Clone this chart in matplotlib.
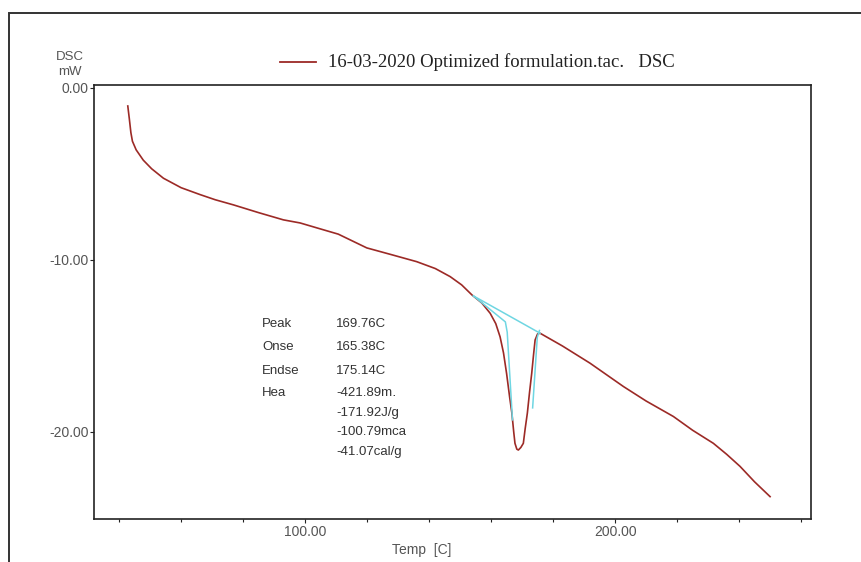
import matplotlib.pyplot as plt
from matplotlib.patches import Rectangle

# DSC trace (temperature in C, heat flow in mW)
temp = [42.8, 43.3, 43.8, 44.3, 45.5, 47.8, 50.5, 54.3, 60.0, 66.1, 71.0, 76.9,
        85.0, 93.0, 98.4, 105.0, 110.7, 119.9, 128.0, 136.0, 142.0, 146.8, 150.5,
        153.8, 157.0, 159.7, 161.5, 162.9, 164.0, 165.0, 166.0, 166.7, 167.3,
        167.7, 168.3, 168.8, 169.6, 170.4, 171.0, 171.7, 172.4, 173.1, 173.7,
        174.2, 175.0, 175.8, 183.0, 191.9, 202.7, 210.0, 218.8, 225.0, 231.7,
        236.0, 240.3, 245.0, 250.0]
dsc = [-1.05, -1.8, -2.6, -3.1, -3.6, -4.2, -4.7, -5.25, -5.8, -6.2, -6.5, -6.8,
       -7.25, -7.67, -7.85, -8.2, -8.5, -9.3, -9.7, -10.1, -10.5, -10.97, -11.45,
       -12.03, -12.5, -13.1, -13.7, -14.47, -15.4, -16.6, -18.0, -18.9, -20.0,
       -20.66, -21.0, -21.05, -20.9, -20.66, -19.8, -18.9, -17.7, -16.6, -15.5,
       -14.65, -14.3, -14.26, -15.0, -16.0, -17.36, -18.2, -19.1, -19.9, -20.66,
       -21.3, -22.0, -22.9, -23.76]

# peak analysis construction lines
base_t = [154.3, 175.8]
base_v = [-12.09, -14.26]
onset_t = [154.3, 164.6, 165.2, 166.9]
onset_v = [-12.09, -13.6, -14.2, -19.3]
endset_t = [175.6, 174.9, 173.4]
endset_v = [-14.1, -14.5, -18.6]

labels = ["Peak", "Onse", "Endse", "Hea", "", "", ""]
values = ["169.76C", "165.38C", "175.14C", "-421.89m\u2024", "-171.92J/g",
          "-100.79mca", "-41.07cal/g"]
label_y = [324, 347, 371, 393, 413, 432, 452]

curve_color = "#9c2a26"
cyan = "#6fd6e2"
grey = "#555555"
sans = ["Liberation Sans", "DejaVu Sans"]

W, H = 862, 562
fig = plt.figure(figsize=(W / 100, H / 100), dpi=100)
ax = fig.add_axes([94 / W, 1 - 519 / H, (811 - 94) / W, (519 - 85) / H])

ax.plot(temp, dsc, color=curve_color, lw=1.2)
ax.plot(base_t, base_v, color=cyan, lw=1.1)
ax.plot(onset_t, onset_v, color=cyan, lw=1.1)
ax.plot(endset_t, endset_v, color=cyan, lw=1.1)

ax.set_xlim(31.9, 263.2)
ax.set_ylim(-25.06, 0.17)
ax.set_xticks([100, 200])
ax.set_xticklabels(["100.00", "200.00"])
ax.set_xticks(list(range(40, 261, 20)), minor=True)
ax.set_yticks([0, -10, -20])
ax.set_yticklabels(["0.00", "-10.00", "-20.00"])
ax.tick_params(which="both", direction="out", length=3, width=0.8,
               labelsize=10, colors="#222222", labelcolor=grey, pad=1)
ax.tick_params(axis="x", which="minor", length=2.5)
for lab in ax.get_xticklabels() + ax.get_yticklabels():
    lab.set_family(sans)
for s in ax.spines.values():
    s.set_linewidth(1.2)
    s.set_color("#222222")

fig.text(70 / W, 1 - 57 / H, "DSC", ha="center", va="center",
         fontsize=9.5, color=grey, family=sans)
fig.text(70 / W, 1 - 72 / H, "mW", ha="center", va="center",
         fontsize=9.5, color=grey, family=sans)
fig.text(422 / W, 1 - 550 / H, "Temp  [C]", ha="center", va="center",
         fontsize=10, color=grey, family=sans)

# legend line and text
fig.add_artist(plt.Line2D([280 / W, 316 / W], [1 - 62 / H, 1 - 62 / H],
                          color=curve_color, lw=1.3))
fig.text(328 / W, 1 - 62 / H, "16-03-2020 Optimized formulation.tac.   DSC",
         ha="left", va="center", fontsize=13.5, color="#222222",
         family="Liberation Serif")

for lab, val, y in zip(labels, values, label_y):
    fig.text(262 / W, 1 - y / H, lab, ha="left", va="center", fontsize=9.5,
             color="#333333", family=sans)
    fig.text(336 / W, 1 - y / H, val, ha="left", va="center", fontsize=9.5,
             color="#333333", family=sans)

# outer frame that runs off the right and bottom of the picture
fig.add_artist(Rectangle((9 / W, -0.1), 1.1, 1 - 13 / H + 0.1,
                         transform=fig.transFigure, fill=False,
                         edgecolor="#333333", lw=1.4))

fig.savefig("out.png", dpi=100)
